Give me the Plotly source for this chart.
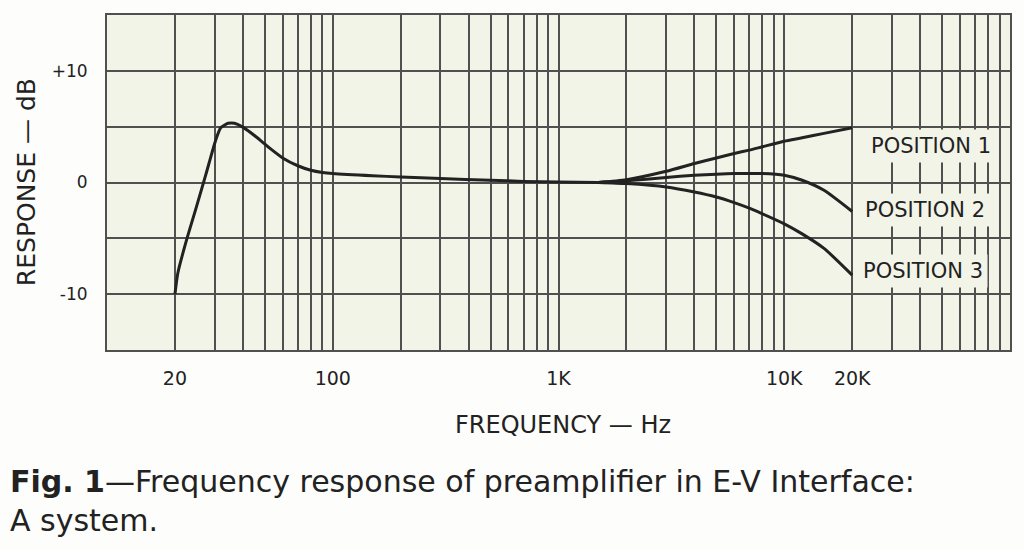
import plotly.graph_objects as go

# ---- data ----
common_freq = [20, 20.6, 22.4, 24.8, 27.4, 30.2, 31.9, 34.4, 36.7, 39.6, 45.7,
               52.4, 60, 70, 80, 90, 100, 150, 200, 300, 500, 700, 1000, 1500]
common_db = [-10, -8.1, -5.3, -2.3, 0.7, 3.7, 4.9, 5.3, 5.3, 5.0, 4.1,
             3.1, 2.2, 1.5, 1.1, 0.9, 0.8, 0.6, 0.5, 0.35, 0.2, 0.1, 0.05, 0.0]

branch_freq = [1500, 2000, 3000, 4000, 5000, 6000, 7000, 8000, 10000, 12000, 15000, 20000]
position1_db = [0, 0.25, 1.0, 1.7, 2.2, 2.6, 2.9, 3.2, 3.7, 4.0, 4.4, 4.9]
position2_db = [0, 0.15, 0.45, 0.65, 0.75, 0.8, 0.8, 0.8, 0.65, 0.2, -0.7, -2.6]
position3_db = [0, -0.1, -0.4, -0.85, -1.3, -1.8, -2.3, -2.8, -3.7, -4.6, -5.9, -8.3]

series_names = ["POSITION 1", "POSITION 2", "POSITION 3"]

x_grid_vals = [m * 10 ** d for d in range(1, 5) for m in range(1, 10)] + [100000]
x_label_map = {20: "20", 100: "100", 1000: "1K", 10000: "10K", 20000: "20K"}
y_tick_vals = [-15, -10, -5, 0, 5, 10, 15]
y_tick_text = ["", "-10", "", "0", "", "+10", ""]

# ---- styling ----
INK = "#222222"
GRID = "#505050"
PLOT_BG = "#f3f4e8"
FONT = "DejaVu Sans"

fig = go.Figure()
line_style = dict(color=INK, width=3, shape="spline", smoothing=0.6)
fig.add_trace(go.Scatter(x=common_freq, y=common_db, mode="lines", line=line_style,
                         showlegend=False, hoverinfo="skip"))
for name, ys in zip(series_names, [position1_db, position2_db, position3_db]):
    fig.add_trace(go.Scatter(x=branch_freq, y=ys, mode="lines", line=line_style,
                             name=name, showlegend=False))

# labels at the right ends of the curves
label_y = [3.3, -2.5, -7.9]
label_shift = [14, 8, 6]
for name, ly, sh in zip(series_names, label_y, label_shift):
    fig.add_annotation(x=4.30103, y=ly, xref="x", yref="y", text=name,
                       showarrow=False, xanchor="left", yanchor="middle", xshift=sh,
                       font=dict(family=FONT, size=21, color=INK),
                       bgcolor=PLOT_BG, borderpad=4)

# axis titles and caption
fig.add_annotation(x=-0.089, y=0.5, xref="paper", yref="paper", text="RESPONSE — dB",
                   textangle=-90, showarrow=False, xanchor="center", yanchor="middle",
                   font=dict(family=FONT, size=25, color=INK))
fig.add_annotation(x=0.505, y=-0.224, xref="paper", yref="paper", text="FREQUENCY — Hz",
                   showarrow=False, xanchor="center", yanchor="middle",
                   font=dict(family=FONT, size=24, color=INK))
fig.add_annotation(x=-0.110, y=-0.335, xref="paper", yref="paper",
                   text="<b>Fig. 1</b>—Frequency response of preamplifier in E-V Interface:<br>A system.",
                   showarrow=False, xanchor="left", yanchor="top", align="left",
                   font=dict(family=FONT, size=30, color=INK))

fig.update_layout(
    width=1024, height=549,
    margin=dict(l=107, r=14, t=15, b=199),
    paper_bgcolor="#fdfdfb",
    plot_bgcolor=PLOT_BG,
    xaxis=dict(type="log", range=[1, 5], tickvals=x_grid_vals,
               ticktext=[x_label_map.get(v, "") for v in x_grid_vals],
               showgrid=True, gridcolor=GRID, gridwidth=1.5,
               showline=True, linecolor=GRID, linewidth=2, mirror=True,
               ticks="", ticklabelstandoff=10, zeroline=False,
               tickfont=dict(family=FONT, size=19, color=INK)),
    yaxis=dict(range=[-15, 15], tickvals=y_tick_vals, ticktext=y_tick_text,
               showgrid=True, gridcolor=GRID, gridwidth=1.5,
               showline=True, linecolor=GRID, linewidth=2, mirror=True,
               ticks="", ticklabelstandoff=14, zeroline=False,
               tickfont=dict(family=FONT, size=17, color=INK)),
)

fig.write_html("out.html", config={"displayModeBar": False},
               post_script="document.body.style.margin='0';")
